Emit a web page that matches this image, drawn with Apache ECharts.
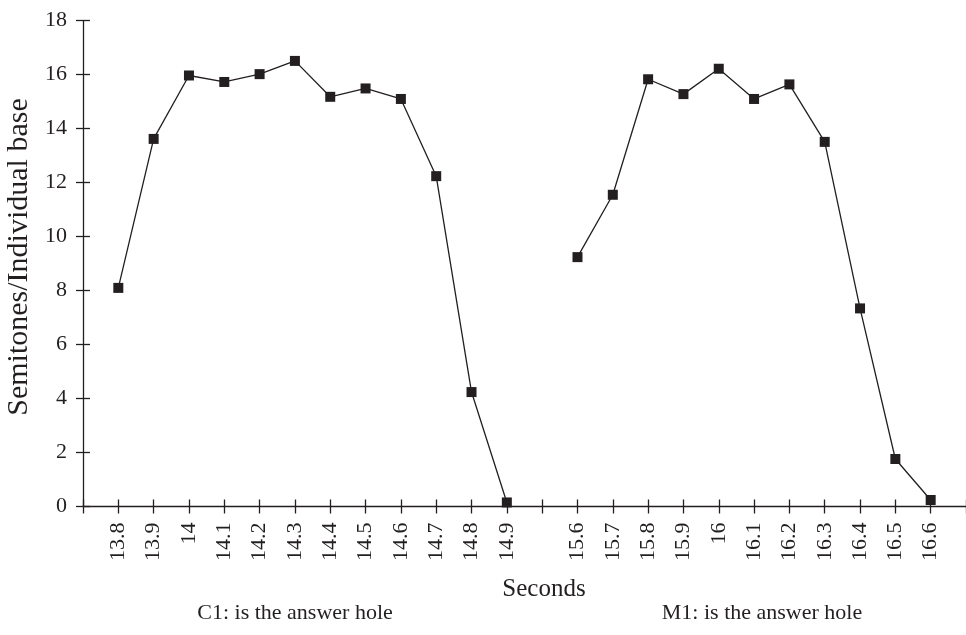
<!DOCTYPE html>
<html>
<head>
<meta charset="utf-8">
<script src="https://cdn.jsdelivr.net/npm/echarts@6/dist/echarts.min.js"></script>
<style>
  html, body { margin: 0; padding: 0; background: #ffffff; }
  #chart { width: 966px; height: 635px; }
</style>
</head>
<body>
<div id="chart"></div>
<script>
// Category axis: blank slots at start, between the two utterances, and at end
const c1Categories = ['13.8', '13.9', '14', '14.1', '14.2', '14.3', '14.4', '14.5', '14.6', '14.7', '14.8', '14.9'];
const m1Categories = ['15.6', '15.7', '15.8', '15.9', '16', '16.1', '16.2', '16.3', '16.4', '16.5', '16.6'];
const c1Values = [8.10, 13.62, 15.97, 15.73, 16.02, 16.51, 15.18, 15.49, 15.10, 12.24, 4.24, 0.15];
const m1Values = [9.24, 11.55, 15.83, 15.28, 16.22, 15.10, 15.64, 13.51, 7.34, 1.76, 0.24];
const yMin = 0, yMax = 18, yStep = 2;
const xTitle = 'Seconds';
const yTitle = 'Semitones/Individual base';
const c1Caption = 'C1: is the answer hole';
const m1Caption = 'M1: is the answer hole';

const categories = [''].concat(c1Categories, [''], m1Categories, ['']);
const blanks = n => new Array(n).fill(null);
const c1Data = [null].concat(c1Values, [null], blanks(m1Categories.length), [null]);
const m1Data = [null].concat(blanks(c1Categories.length), [null], m1Values, [null]);

const ink = '#231f20';
const font = 'Liberation Serif';

const chart = echarts.init(document.getElementById('chart'), null, { renderer: 'canvas' });

const baseX = {
  type: 'category',
  data: categories,
  boundaryGap: false,
  position: 'bottom',
  splitLine: { show: false }
};
const baseY = {
  type: 'value',
  min: yMin, max: yMax, interval: yStep,
  position: 'left',
  splitLine: { show: false }
};

chart.setOption({
  animation: false,
  backgroundColor: '#ffffff',
  grid: { left: 83, right: -2, top: 20.7, bottom: 128.5, containLabel: false },
  xAxis: [
    Object.assign({}, baseX, {
      axisLine: { show: true, lineStyle: { color: ink, width: 1.3 } },
      axisTick: { show: true, inside: false, length: 7, interval: 0, lineStyle: { color: ink, width: 1.3 } },
      axisLabel: { show: true, interval: 0, rotate: 90, margin: 16, fontSize: 22, fontFamily: font, color: ink }
    }),
    Object.assign({}, baseX, {
      axisLine: { show: false },
      axisTick: { show: true, inside: true, length: 7, interval: 0, lineStyle: { color: ink, width: 1.3 } },
      axisLabel: { show: false }
    })
  ],
  yAxis: [
    Object.assign({}, baseY, {
      axisLine: { show: true, lineStyle: { color: ink, width: 1.3 } },
      axisTick: { show: true, inside: false, length: 7, lineStyle: { color: ink, width: 1.3 } },
      axisLabel: { show: true, margin: 16, fontSize: 22, fontFamily: font, color: ink }
    }),
    Object.assign({}, baseY, {
      axisLine: { show: false },
      axisTick: { show: true, inside: true, length: 7, lineStyle: { color: ink, width: 1.3 } },
      axisLabel: { show: false }
    })
  ],
  series: [
    {
      name: 'C1', type: 'line', xAxisIndex: 0, yAxisIndex: 0, data: c1Data,
      symbol: 'rect', symbolSize: 10, showSymbol: true, connectNulls: false,
      lineStyle: { color: ink, width: 1.3 }, itemStyle: { color: ink },
      emphasis: { disabled: true }
    },
    {
      name: 'M1', type: 'line', xAxisIndex: 0, yAxisIndex: 0, data: m1Data,
      symbol: 'rect', symbolSize: 10, showSymbol: true, connectNulls: false,
      lineStyle: { color: ink, width: 1.3 }, itemStyle: { color: ink },
      emphasis: { disabled: true }
    }
  ],
  graphic: [
    { type: 'text', x: 544, y: 589, style: { text: xTitle, fill: ink, font: '25px "' + font + '"', align: 'center', verticalAlign: 'middle' } },
    { type: 'text', x: 295, y: 613, style: { text: c1Caption, fill: ink, font: '22px "' + font + '"', align: 'center', verticalAlign: 'middle' } },
    { type: 'text', x: 762, y: 613, style: { text: m1Caption, fill: ink, font: '22px "' + font + '"', align: 'center', verticalAlign: 'middle' } },
    { type: 'text', x: 19, y: 257, rotation: Math.PI / 2, style: { text: yTitle, fill: ink, font: '30px "' + font + '"', align: 'center', verticalAlign: 'middle' } }
  ]
});
</script>
</body>
</html>
